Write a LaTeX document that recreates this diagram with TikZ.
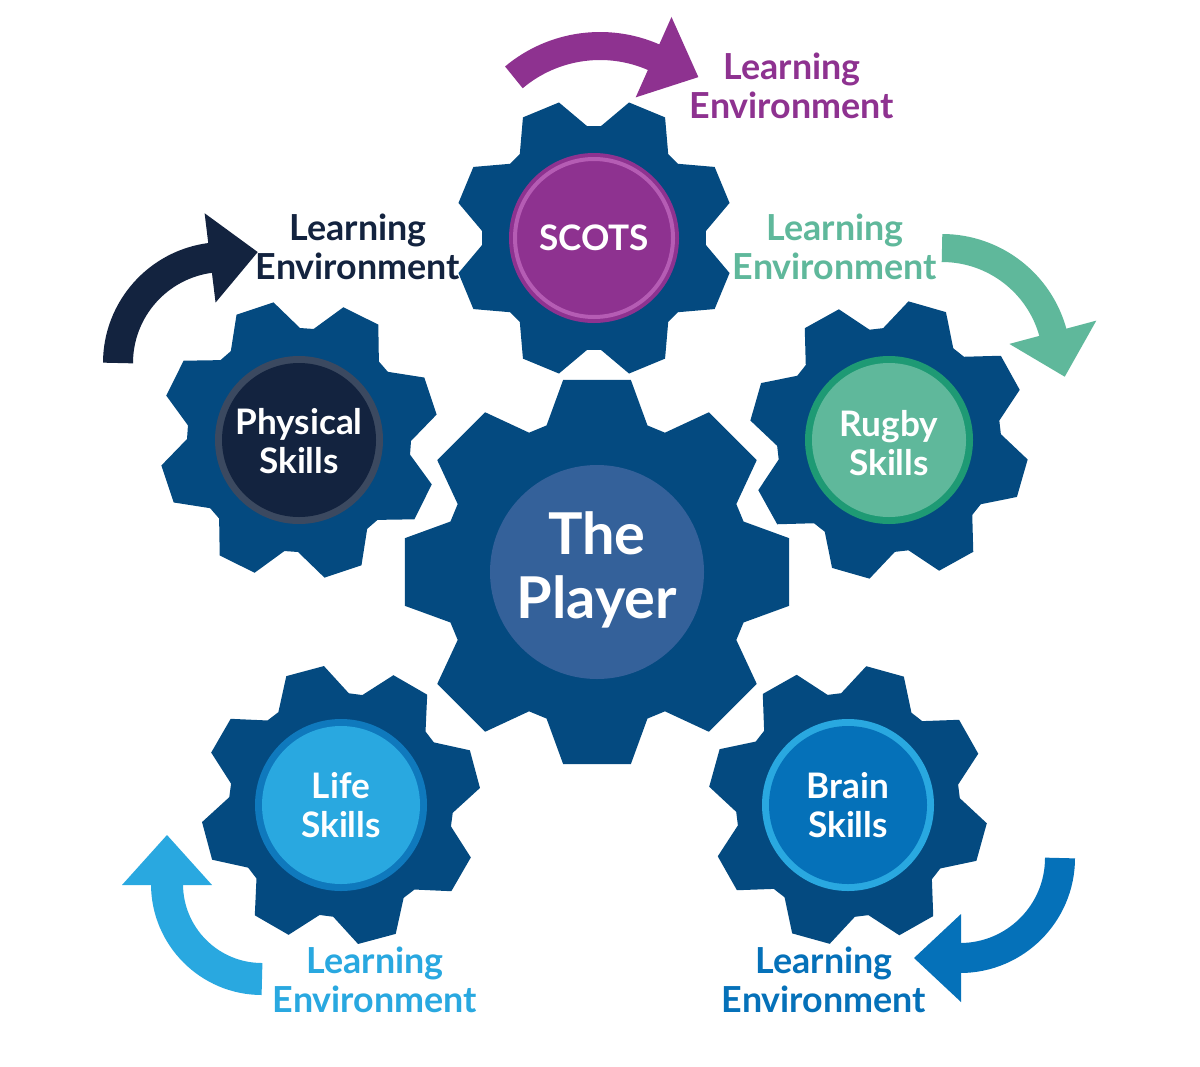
\documentclass[tikz,border=0pt]{standalone}
\usepackage{fontspec}
\setmainfont{Lato}[BoldFont={* Bold}]
\usetikzlibrary{calc}
\definecolor{gearblue}{HTML}{044A80}
\definecolor{centerfill}{HTML}{34619A}
\definecolor{purp}{HTML}{8E3290}
\definecolor{purpring}{HTML}{B55CB4}
\definecolor{navy}{HTML}{13233F}
\definecolor{navyring}{HTML}{3B4960}
\definecolor{teal}{HTML}{5FB89B}
\definecolor{tealring}{HTML}{1E9A74}
\definecolor{lblue}{HTML}{29A8E0}
\definecolor{lbluering}{HTML}{0F79BD}
\definecolor{mblue}{HTML}{0571B9}
\definecolor{mbluering}{HTML}{29A8E0}
\newcommand{\mygear}[7]{% cx, cy ; R ; r ; offset ; top half ; base half
  \fill[gearblue] ($(#1,#2)+(#5-#7:#4)$)
  \foreach \k in {0,...,7}{ -- ($(#1,#2)+(#5+\k*45-#7:#4)$) -- ($(#1,#2)+(#5+\k*45-#6:#3)$) -- ($(#1,#2)+(#5+\k*45+#6:#3)$) -- ($(#1,#2)+(#5+\k*45+#7:#4)$)} -- cycle;}
\newcommand{\myarrow}[9]{% color; cx; cy; r; a1; a2; width; headw; headlen
  \draw[#1,line width=#7*0.025cm] ($(#2,#3)+(#5:#4)$) arc[start angle=#5,end angle=#6,radius=#4];
  \fill[#1] ($(#2,#3)+(#6:#4)+(#6:#8/2)+(#6+90:-1)$) -- ($(#2,#3)+(#6:#4)+(#6+90:#9)$) -- ($(#2,#3)+(#6:#4)+(#6:-#8/2)+(#6+90:-1)$) -- cycle;}
\tikzset{
  lbl/.style={font=\bfseries\fontsize{25.5}{27.5}\selectfont, align=center},
  inner/.style={font=\bfseries\fontsize{25}{27.5}\selectfont, align=center, text=white},
}
\begin{document}
\begin{tikzpicture}[x=0.025cm,y=-0.025cm]
\fill[white] (0,0) rectangle (1200,1066);
\useasboundingbox (0,0) rectangle (1200,1066);
% gears (angles given in screen degrees, negated for flipped y)
\mygear{597}{572}{195}{155}{-90}{10}{19}
\mygear{594}{238}{140}{112}{-22.5}{8}{19}
\mygear{299}{440}{140}{112}{-18.5}{8}{19}
\mygear{889}{440}{140}{112}{-29}{8}{19}
\mygear{341}{805}{140}{112}{-15}{8}{19}
\mygear{848}{805}{140}{112}{-29.5}{8}{19}
% circles
\fill[centerfill] (597,572) circle[radius=107];
\node[inner, font=\bfseries\fontsize{41}{46}\selectfont] (player) at (597,570) {The\\Player};
\fill[purp] (594,238) circle[radius=85];
\draw[purpring, line width=0.1cm] (594,238) circle[radius=79];
\node[inner] (scots) at (594,238) {SCOTS};
\fill[navyring] (299,440) circle[radius=84];
\fill[navy] (299,440) circle[radius=77];
\node[inner] (phys) at (299,441) {Physical\\Skills};
\fill[tealring] (889,440) circle[radius=84];
\fill[teal] (889,440) circle[radius=77];
\node[inner] (rugby) at (889,443) {Rugby\\Skills};
\fill[lbluering] (341,805) circle[radius=86];
\fill[lblue] (341,805) circle[radius=79];
\node[inner] (life) at (341,805) {Life\\Skills};
\fill[mbluering] (848,805) circle[radius=86];
\fill[mblue] (848,805) circle[radius=79];
\node[inner] (brain) at (848,805) {Brain\\Skills};
% arrows
\myarrow{purp}{600}{180}{134}{230}{294}{28}{88}{48}
\myarrow{navy}{224}{363}{106}{180}{263}{30}{90}{47}
\myarrow{teal}{942}{363}{115}{270}{345}{28}{90}{45}
\myarrow{lblue}{262}{884}{95}{90}{180}{32}{90}{49}
\myarrow{mblue}{960}{858}{100}{0}{90}{30}{88}{46}
% labels
\node[lbl, text=purp] (l1) at (792,86) {Learning\\Environment};
\node[lbl, text=navy] (l2) at (358,247) {Learning\\Environment};
\node[lbl, text=teal] (l3) at (835,247) {Learning\\Environment};
\node[lbl, text=lblue] (l4) at (375,980) {Learning\\Environment};
\node[lbl, text=mblue] (l5) at (824,980) {Learning\\Environment};
\end{tikzpicture}
\end{document}
